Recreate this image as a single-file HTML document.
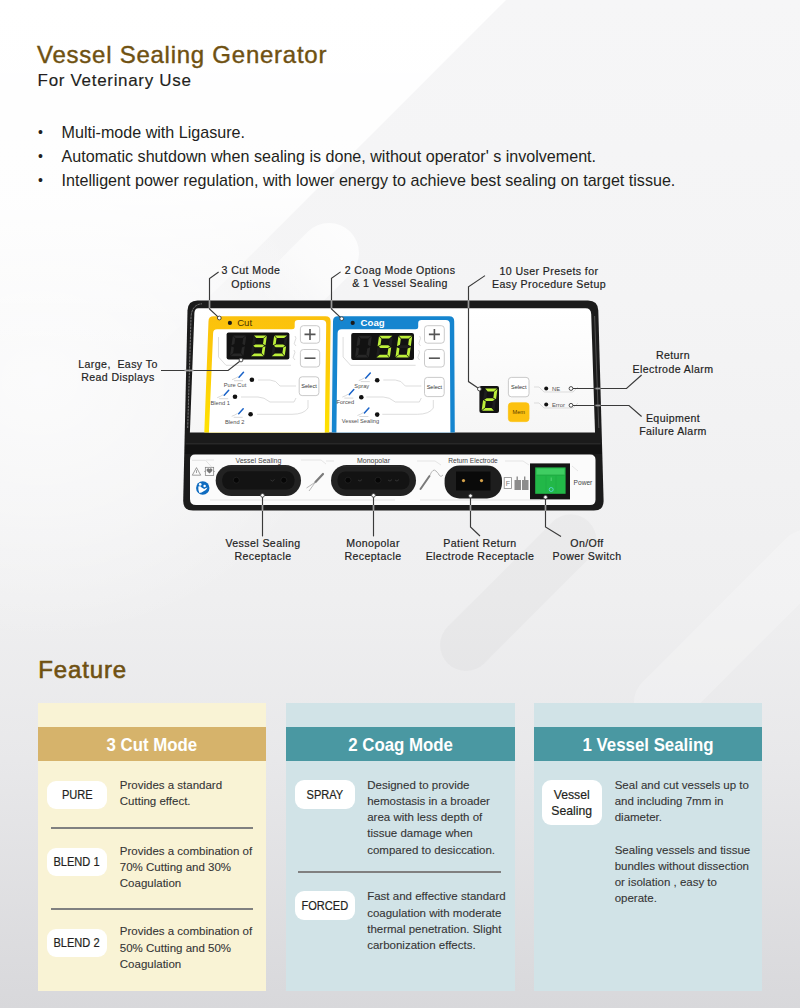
<!DOCTYPE html>
<html><head><meta charset="utf-8">
<style>
*{margin:0;padding:0;box-sizing:border-box}
html,body{width:800px;height:1008px;overflow:hidden}
body{font-family:"Liberation Sans",sans-serif;position:relative;background:#ffffff;color:#231f20}
#bg{position:absolute;left:0;top:0;width:800px;height:1008px}
h1{position:absolute;left:37px;top:42.7px;font-size:24px;line-height:24px;font-weight:normal;color:#6f5111;white-space:nowrap;-webkit-text-stroke:0.4px #6f5111;letter-spacing:0.75px}
.sub{position:absolute;left:37.6px;top:71.7px;font-size:17px;line-height:17px;color:#231f20;white-space:nowrap;letter-spacing:0.68px;-webkit-text-stroke:0.15px #231f20}
ul.b{position:absolute;left:35px;top:119.65px;list-style:none;font-size:16.1px;color:#231f20}
ul.b li{height:24.2px;line-height:24.2px;white-space:nowrap;padding-left:26.6px;position:relative}
ul.b li:before{content:"\2022";position:absolute;left:3px;top:0;font-size:14px}
#dev{position:absolute;left:0;top:0;width:800px;height:1008px}
.cl{position:absolute;font-size:10.6px;color:#222;text-align:center;white-space:nowrap;line-height:13.3px;letter-spacing:0.4px;-webkit-text-stroke:0.18px #222;margin-top:0.2px}
.feat{position:absolute;left:38.2px;top:656.8px;font-size:24px;line-height:26px;color:#6f5111;-webkit-text-stroke:0.6px #6f5111;letter-spacing:0.88px}
.card{position:absolute;top:703px;width:228.5px;height:287.5px}
.card .hd{position:absolute;left:0;top:24.2px;width:100%;height:34.3px;color:#fff;font-size:18.5px;font-weight:bold;text-align:center;line-height:35px;white-space:nowrap}
.card .hd span{display:inline-block;transform:scaleX(0.91)}
.pill{position:absolute;background:#fff;border-radius:9px;font-size:13.2px;color:#231f20;text-align:center;display:flex;align-items:center;justify-content:center;line-height:16px}
.pill span{display:inline-block;transform:scaleX(0.84);-webkit-text-stroke:0.2px #231f20}
.tx{position:absolute;font-size:11.5px;color:#353535;line-height:16.2px;white-space:nowrap;-webkit-text-stroke:0.1px #353535}
.sep{position:absolute;height:1.6px;background:#808080}
</style></head>
<body>
<svg id="bg" width="800" height="1008" viewBox="0 0 800 1008">
<defs>
<linearGradient id="bgG" x1="0" y1="0" x2="0" y2="1008" gradientUnits="userSpaceOnUse">
<stop offset="0" stop-color="#f6f6f7"/><stop offset="0.2976" stop-color="#f4f4f5"/><stop offset="0.5952" stop-color="#efeff0"/><stop offset="0.754" stop-color="#e8e8ea"/><stop offset="1" stop-color="#d8d8db"/>
</linearGradient>
<linearGradient id="bgW" x1="0" y1="0" x2="0" y2="360" gradientUnits="userSpaceOnUse">
<stop offset="0" stop-color="#ffffff" stop-opacity="1"/><stop offset="0.55" stop-color="#ffffff" stop-opacity="0.85"/><stop offset="1" stop-color="#ffffff" stop-opacity="0"/>
</linearGradient>
<linearGradient id="pillW" x1="0" y1="0" x2="1" y2="0"><stop offset="0" stop-color="#fff" stop-opacity="0.8"/><stop offset="0.5" stop-color="#fff" stop-opacity="0.6"/><stop offset="1" stop-color="#fff" stop-opacity="0"/></linearGradient>
<radialGradient id="leftW" cx="0.5" cy="0.5" r="0.5"><stop offset="0" stop-color="#fff" stop-opacity="0.7"/><stop offset="0.6" stop-color="#fff" stop-opacity="0.35"/><stop offset="1" stop-color="#fff" stop-opacity="0"/></radialGradient>
</defs>
<rect width="800" height="1008" fill="url(#bgG)"/>
<ellipse cx="40" cy="380" rx="300" ry="260" fill="url(#leftW)"/>
<path d="M0,0 L506,0 L0,506 Z" fill="url(#bgW)"/>
<g transform="translate(329,253) rotate(135)"><rect x="-30" y="-30" width="110" height="60" rx="30" fill="url(#pillW)"/></g>
<g transform="translate(466,645) rotate(-45)"><rect x="-26" y="-26" width="200" height="52" rx="26" fill="#000" opacity="0.025"/></g>

<g transform="translate(662,702) rotate(-45)"><rect x="-28" y="-28" width="260" height="56" rx="28" fill="#fff" opacity="0.22"/></g>
</svg>
<h1>Vessel Sealing Generator</h1>
<div class="sub">For Veterinary Use</div>
<ul class="b">
<li>Multi-mode with Ligasure.</li>
<li>Automatic shutdown when sealing is done, without operator' s involvement.</li>
<li>Intelligent power regulation, with lower energy to achieve best sealing on target tissue.</li>
</ul>
<svg id="dev" width="800" height="1008" viewBox="0 0 800 1008" font-family="Liberation Sans, sans-serif">
<defs><linearGradient id="gBody" x1="0" y1="0" x2="0" y2="1"><stop offset="0" stop-color="#262626"/><stop offset="1" stop-color="#151515"/></linearGradient><linearGradient id="gPanel" x1="0" y1="0" x2="0" y2="1"><stop offset="0" stop-color="#ffffff"/><stop offset="1" stop-color="#f6f6f6"/></linearGradient><linearGradient id="gYel" x1="0" y1="316" x2="0" y2="431" gradientUnits="userSpaceOnUse"><stop offset="0" stop-color="#fbc10d"/><stop offset="0.45" stop-color="#fdcc06"/><stop offset="1" stop-color="#ffe200"/></linearGradient><linearGradient id="gGreen" x1="0" y1="0" x2="0" y2="1"><stop offset="0" stop-color="#35c35a"/><stop offset="1" stop-color="#1f9e40"/></linearGradient></defs>
<path d="M197.5,300.5 L588,300.5 Q598,300.5 598.3,310.5 L603.6,500.5 Q603.8,510.5 593.8,510.5 L193,510.5 Q183,510.5 183.2,500.5 L187.5,310.5 Q187.8,300.5 197.5,300.5 Z" fill="#1b1b1b"/>
<path d="M187.7,428 L191.0,318 Q191.4,304.5 202,303.8" stroke="#c8c8c8" stroke-width="0.7" fill="none" opacity="0.75" stroke-dasharray="2.5 0.8"/>
<path d="M594.6,316 L598.8,428" stroke="#8a8a8a" stroke-width="0.8" fill="none" opacity="0.6"/>
<path d="M185.5,444.5 L601,444.5 L602,454 L185,454 Z" fill="#121212"/>
<path d="M186,443.8 L600.5,443.8" stroke="#333" stroke-width="0.8"/>
<path d="M198.5,308.3 L585.5,308.3 Q591,308.3 591.2,314 L595,432.4 L189.9,432.4 L194.4,313 Q194.6,308.3 198.5,308.3 Z" fill="url(#gPanel)"/>
<path d="M195,454.5 L590,454.5 Q595.5,454.5 595.5,460 L595.5,499.5 Q595.5,505 590,505 L196,505 Q190,505 190,499 L190,460 Q190,454.5 195,454.5 Z" fill="#fbfbfb"/>
<path d="M213.5,316.2 L325.6,316.2 Q330.6,316.2 330.6,321.2 L329.2,432.4 L204.3,432.4 L208.5,321.2 Q208.5,316.2 213.5,316.2 Z" fill="url(#gYel)"/>
<path d="M217.1,329.3 L292.0,329.3 Q294.7,329.3 294.7,326.8 L294.7,323.0 Q294.7,320.0 298.0,320.0 L322.2,320.0 Q326.2,320.0 326.2,324.0 L324.8,432.4 L208.9,432.4 L213.1,333.3 Q213.1,329.3 217.1,329.3 Z" fill="#ffffff"/>
<path d="M338.0,316.2 L449.2,316.2 Q454.2,316.2 454.2,321.2 L454.8,432.4 L331.8,432.4 L333.0,321.2 Q333.0,316.2 338.0,316.2 Z" fill="#1585cf"/>
<path d="M341.6,329.3 L415.5,329.3 Q418.2,329.3 418.2,326.8 L418.2,323.0 Q418.2,320.0 421.5,320.0 L445.8,320.0 Q449.8,320.0 449.8,324.0 L450.4,432.4 L336.4,432.4 L337.6,333.3 Q337.6,329.3 341.6,329.3 Z" fill="#ffffff"/>
<circle cx="229.9" cy="322.9" r="2.1" fill="#1a1a1a"/>
<text x="237.2" y="326.3" font-size="9.6" fill="#4a3200">Cut</text>
<circle cx="352.7" cy="322.9" r="2.1" fill="#1a1a1a"/>
<text x="360.6" y="326.3" font-size="9.6" fill="#ffffff" font-weight="bold">Coag</text>
<rect x="226.6" y="332.6" width="62.8" height="26.8" rx="2" fill="#121212"/>
<rect x="351.2" y="333.0" width="62.8" height="27.0" rx="2" fill="#121212"/>
<polygon points="233.36,335.40 245.86,335.40 242.78,338.10 235.68,338.10" fill="#272727"/>
<polygon points="230.45,356.20 242.95,356.20 240.63,353.50 233.53,353.50" fill="#272727"/>
<polygon points="232.85,335.85 235.17,338.55 234.41,344.00 231.52,345.35" fill="#272727"/>
<polygon points="231.39,346.25 233.90,347.60 233.14,353.05 230.06,355.75" fill="#272727"/>
<polygon points="246.25,335.85 243.17,338.55 242.41,344.00 244.92,345.35" fill="#272727"/>
<polygon points="244.79,346.25 241.90,347.60 241.14,353.05 243.46,355.75" fill="#272727"/>
<polygon points="253.96,335.40 266.46,335.40 263.38,338.10 256.28,338.10" fill="#bdf03a"/>
<polygon points="251.05,356.20 263.55,356.20 261.23,353.50 254.13,353.50" fill="#bdf03a"/>
<polygon points="253.45,335.85 255.77,338.55 255.01,344.00 252.12,345.35" fill="#1e1e1e"/>
<polygon points="251.99,346.25 254.50,347.60 253.74,353.05 250.66,355.75" fill="#1e1e1e"/>
<polygon points="266.85,335.85 263.77,338.55 263.01,344.00 265.52,345.35" fill="#bdf03a"/>
<polygon points="265.39,346.25 262.50,347.60 261.74,353.05 264.06,355.75" fill="#bdf03a"/>
<polygon points="253.11,345.80 255.40,344.45 262.50,344.45 264.41,345.80 262.12,347.15 255.02,347.15" fill="#bdf03a"/>
<polygon points="274.66,335.40 287.16,335.40 284.08,338.10 276.98,338.10" fill="#bdf03a"/>
<polygon points="271.75,356.20 284.25,356.20 281.93,353.50 274.83,353.50" fill="#bdf03a"/>
<polygon points="274.15,335.85 276.47,338.55 275.71,344.00 272.82,345.35" fill="#bdf03a"/>
<polygon points="272.69,346.25 275.20,347.60 274.44,353.05 271.36,355.75" fill="#1e1e1e"/>
<polygon points="287.55,335.85 284.47,338.55 283.71,344.00 286.22,345.35" fill="#1e1e1e"/>
<polygon points="286.09,346.25 283.20,347.60 282.44,353.05 284.76,355.75" fill="#bdf03a"/>
<polygon points="273.81,345.80 276.09,344.45 283.19,344.45 285.11,345.80 282.82,347.15 275.72,347.15" fill="#bdf03a"/>
<polygon points="358.50,335.80 371.40,335.80 368.21,338.60 360.91,338.60" fill="#272727"/>
<polygon points="355.45,357.60 368.35,357.60 365.94,354.80 358.64,354.80" fill="#272727"/>
<polygon points="357.99,336.25 360.40,339.05 359.59,344.85 356.59,346.25" fill="#272727"/>
<polygon points="356.46,347.15 359.07,348.55 358.25,354.35 355.06,357.15" fill="#272727"/>
<polygon points="371.79,336.25 368.60,339.05 367.79,344.85 370.39,346.25" fill="#272727"/>
<polygon points="370.26,347.15 367.27,348.55 366.45,354.35 368.86,357.15" fill="#272727"/>
<polygon points="379.50,335.80 392.40,335.80 389.21,338.60 381.91,338.60" fill="#bdf03a"/>
<polygon points="376.45,357.60 389.35,357.60 386.94,354.80 379.64,354.80" fill="#bdf03a"/>
<polygon points="378.99,336.25 381.40,339.05 380.59,344.85 377.59,346.25" fill="#bdf03a"/>
<polygon points="377.46,347.15 380.07,348.55 379.25,354.35 376.06,357.15" fill="#1e1e1e"/>
<polygon points="392.79,336.25 389.60,339.05 388.79,344.85 391.39,346.25" fill="#1e1e1e"/>
<polygon points="391.26,347.15 388.27,348.55 387.45,354.35 389.86,357.15" fill="#bdf03a"/>
<polygon points="378.58,346.70 380.97,345.30 388.27,345.30 390.28,346.70 387.88,348.10 380.58,348.10" fill="#bdf03a"/>
<polygon points="398.90,335.80 411.80,335.80 408.61,338.60 401.31,338.60" fill="#bdf03a"/>
<polygon points="395.85,357.60 408.75,357.60 406.34,354.80 399.04,354.80" fill="#bdf03a"/>
<polygon points="398.39,336.25 400.80,339.05 399.99,344.85 396.99,346.25" fill="#bdf03a"/>
<polygon points="396.86,347.15 399.47,348.55 398.65,354.35 395.46,357.15" fill="#bdf03a"/>
<polygon points="412.19,336.25 409.00,339.05 408.19,344.85 410.79,346.25" fill="#bdf03a"/>
<polygon points="410.66,347.15 407.67,348.55 406.85,354.35 409.26,357.15" fill="#bdf03a"/>
<polygon points="397.98,346.70 400.37,345.30 407.67,345.30 409.68,346.70 407.28,348.10 399.98,348.10" fill="#1e1e1e"/>
<rect x="479.4" y="386.1" width="19.6" height="27.0" rx="2" fill="#121212"/>
<polygon points="485.17,388.50 497.07,388.50 493.77,391.40 487.67,391.40" fill="#bdf03a"/>
<polygon points="482.05,410.80 493.95,410.80 491.46,407.90 485.36,407.90" fill="#bdf03a"/>
<polygon points="484.66,388.95 487.15,391.85 486.33,397.75 483.22,399.20" fill="#1e1e1e"/>
<polygon points="483.10,400.10 485.80,401.55 484.97,407.45 481.66,410.35" fill="#bdf03a"/>
<polygon points="497.46,388.95 494.15,391.85 493.33,397.75 496.02,399.20" fill="#bdf03a"/>
<polygon points="495.90,400.10 492.80,401.55 491.97,407.45 494.46,410.35" fill="#1e1e1e"/>
<polygon points="484.21,399.65 486.71,398.20 492.81,398.20 494.91,399.65 492.41,401.10 486.31,401.10" fill="#bdf03a"/>
<path d="M218.5,337 L218.5,357 L226.0,365.3 L291.0,365.3" stroke="#d4d4d4" stroke-width="0.8" fill="none"/>
<path d="M295.0,336 q2,2 0,5 q-2,3 1,5 M294.0,350 q2,2 0,5 q-2,3 1,5" stroke="#cfcfcf" stroke-width="0.7" fill="none"/>
<path d="M343.1,337 L343.1,357 L350.6,365.3 L415.6,365.3" stroke="#d4d4d4" stroke-width="0.8" fill="none"/>
<path d="M419.6,336 q2,2 0,5 q-2,3 1,5 M418.6,350 q2,2 0,5 q-2,3 1,5" stroke="#cfcfcf" stroke-width="0.7" fill="none"/>
<rect x="300.4" y="325.7" width="19.3" height="17.5" rx="3" fill="#ffffff" stroke="#bcbcbc" stroke-width="0.8"/>
<path d="M304.5,334.4 h11 M310.0,328.9 v11" stroke="#555" stroke-width="1.6"/>
<rect x="300.4" y="349.5" width="19.3" height="17.5" rx="3" fill="#ffffff" stroke="#bcbcbc" stroke-width="0.8"/>
<path d="M304.5,358.2 h11" stroke="#555" stroke-width="1.6"/>
<rect x="424.5" y="325.7" width="19.8" height="17.5" rx="3" fill="#ffffff" stroke="#bcbcbc" stroke-width="0.8"/>
<path d="M428.9,334.4 h11 M434.4,328.9 v11" stroke="#555" stroke-width="1.6"/>
<rect x="424.5" y="349.5" width="19.8" height="17.5" rx="3" fill="#ffffff" stroke="#bcbcbc" stroke-width="0.8"/>
<path d="M428.9,358.2 h11" stroke="#555" stroke-width="1.6"/>
<rect x="299.2" y="376.8" width="19.7" height="18.8" rx="3" fill="#ffffff" stroke="#bcbcbc" stroke-width="0.8"/>
<text x="309.0" y="388.2" font-size="5.6" fill="#333" text-anchor="middle">Select</text>
<rect x="424.5" y="377.4" width="19.7" height="19.2" rx="3" fill="#ffffff" stroke="#bcbcbc" stroke-width="0.8"/>
<text x="434.4" y="389.0" font-size="5.6" fill="#333" text-anchor="middle">Select</text>
<rect x="508.4" y="377.4" width="20.6" height="19.4" rx="3" fill="#ffffff" stroke="#bcbcbc" stroke-width="0.8"/>
<text x="518.7" y="389.1" font-size="5.6" fill="#333" text-anchor="middle">Select</text>
<rect x="508.4" y="402.8" width="20.6" height="18.8" rx="3" fill="#fcc10f" stroke="#fcc10f" stroke-width="0.8"/>
<text x="518.7" y="414.2" font-size="5.6" fill="#5a3d00" text-anchor="middle">Mem</text>
<circle cx="251.9" cy="379.8" r="2.3" fill="#111"/>
<text x="235.0" y="386.9" font-size="5.7" fill="#505050" text-anchor="middle">Pure Cut</text>
<path d="M239.0,377.2 l4.5,-5" stroke="#1a63c8" stroke-width="1.5" stroke-linecap="round"/>
<path d="M232.0,379.7 q3,-1 6,-3 M234.0,380.7 l9,0" stroke="#bdbdbd" stroke-width="0.6" fill="none"/>
<circle cx="235.0" cy="396.8" r="2.3" fill="#111"/>
<text x="220.2" y="404.9" font-size="5.7" fill="#505050" text-anchor="middle">Blend 1</text>
<path d="M224.2,395.2 l4.5,-5" stroke="#1a63c8" stroke-width="1.5" stroke-linecap="round"/>
<path d="M217.2,397.7 q3,-1 6,-3 M219.2,398.7 l9,0" stroke="#bdbdbd" stroke-width="0.6" fill="none"/>
<circle cx="250.6" cy="414.2" r="2.3" fill="#111"/>
<text x="234.7" y="423.5" font-size="5.7" fill="#505050" text-anchor="middle">Blend 2</text>
<path d="M238.7,413.8 l4.5,-5" stroke="#1a63c8" stroke-width="1.5" stroke-linecap="round"/>
<path d="M231.7,416.3 q3,-1 6,-3 M233.7,417.3 l9,0" stroke="#bdbdbd" stroke-width="0.6" fill="none"/>
<circle cx="377.2" cy="380.3" r="2.3" fill="#111"/>
<text x="361.8" y="387.8" font-size="5.7" fill="#505050" text-anchor="middle">Spray</text>
<path d="M365.8,378.1 l4.5,-5" stroke="#1a63c8" stroke-width="1.5" stroke-linecap="round"/>
<path d="M358.8,380.6 q3,-1 6,-3 M360.8,381.6 l9,0" stroke="#bdbdbd" stroke-width="0.6" fill="none"/>
<circle cx="361.3" cy="397.3" r="2.3" fill="#111"/>
<text x="345.3" y="404.3" font-size="5.7" fill="#505050" text-anchor="middle">Forced</text>
<path d="M349.3,394.6 l4.5,-5" stroke="#1a63c8" stroke-width="1.5" stroke-linecap="round"/>
<path d="M342.3,397.1 q3,-1 6,-3 M344.3,398.1 l9,0" stroke="#bdbdbd" stroke-width="0.6" fill="none"/>
<circle cx="377.2" cy="414.6" r="2.3" fill="#111"/>
<text x="360.4" y="422.7" font-size="5.7" fill="#505050" text-anchor="middle">Vessel Sealing</text>
<path d="M364.4,413.0 l4.5,-5" stroke="#1a63c8" stroke-width="1.5" stroke-linecap="round"/>
<path d="M357.4,415.5 q3,-1 6,-3 M359.4,416.5 l9,0" stroke="#bdbdbd" stroke-width="0.6" fill="none"/>
<path d="M258.0,380 L270.0,380 Q276.0,380 280.0,386 L296.0,386" stroke="#cfcfcf" stroke-width="0.7" fill="none"/>
<path d="M241.0,397 L258.0,397 Q264.0,397 270.0,402 L294.0,402 L296.0,398" stroke="#cfcfcf" stroke-width="0.7" fill="none"/>
<path d="M257.0,414.3 L292.0,414.3 Q304.0,414.3 308.0,408 L308.0,400" stroke="#cfcfcf" stroke-width="0.7" fill="none"/>
<path d="M383.3,380 L395.3,380 Q401.3,380 405.3,386 L421.3,386" stroke="#cfcfcf" stroke-width="0.7" fill="none"/>
<path d="M366.3,397 L383.3,397 Q389.3,397 395.3,402 L419.3,402 L421.3,398" stroke="#cfcfcf" stroke-width="0.7" fill="none"/>
<path d="M382.3,414.3 L417.3,414.3 Q429.3,414.3 433.3,408 L433.3,400" stroke="#cfcfcf" stroke-width="0.7" fill="none"/>
<path d="M534,387.0 h5 l5,5 h29 l5,-5" stroke="#d0d0d0" stroke-width="0.7" fill="none"/>
<circle cx="546.2" cy="388.5" r="2" fill="#111"/>
<text x="552" y="390.5" font-size="5.8" fill="#555">NE</text>
<path d="M534,403.0 h5 l5,5 h29 l5,-5" stroke="#d0d0d0" stroke-width="0.7" fill="none"/>
<circle cx="546.2" cy="404.5" r="2" fill="#111"/>
<text x="552" y="406.5" font-size="5.8" fill="#555">Error</text>
<rect x="215.7" y="464.9" width="85.3" height="31.1" rx="15.6" fill="#222"/>
<rect x="222.2" y="471.3" width="72.3" height="18.3" rx="8" fill="#131313"/>
<path d="M227.7,466.1 h61.3" stroke="#3a3a3a" stroke-width="0.6" opacity="0.6"/>
<rect x="331.0" y="465.0" width="85.0" height="31.0" rx="15.5" fill="#222"/>
<rect x="337.5" y="471.4" width="72.0" height="18.2" rx="8" fill="#131313"/>
<path d="M343.0,466.2 h61.0" stroke="#3a3a3a" stroke-width="0.6" opacity="0.6"/>
<circle cx="236.3" cy="480.2" r="3" fill="#060606" stroke="#2a2a2a" stroke-width="0.6"/>
<circle cx="283.8" cy="480.2" r="3" fill="#060606" stroke="#2a2a2a" stroke-width="0.6"/>
<circle cx="348.0" cy="480.2" r="3" fill="#060606" stroke="#2a2a2a" stroke-width="0.6"/>
<circle cx="378.0" cy="480.2" r="3" fill="#060606" stroke="#2a2a2a" stroke-width="0.6"/>
<path d="M270.5,480 q2,2.5 4,-0.5" stroke="#3a3a3a" stroke-width="0.8" fill="none"/>
<path d="M358.0,480 q2,2.5 4,-0.5" stroke="#3a3a3a" stroke-width="0.8" fill="none"/>
<path d="M388.0,480 q2,2.5 4,-0.5" stroke="#3a3a3a" stroke-width="0.8" fill="none"/>
<path d="M395.0,480 q2,2.5 4,-0.5" stroke="#3a3a3a" stroke-width="0.8" fill="none"/>
<text x="258.4" y="463" font-size="7" fill="#444" text-anchor="middle">Vessel Sealing</text>
<text x="373.5" y="463" font-size="7" fill="#444" text-anchor="middle">Monopolar</text>
<text x="473" y="462.8" font-size="6.6" fill="#444" text-anchor="middle">Return Electrode</text>
<rect x="444.6" y="465.5" width="57.4" height="33" rx="15" fill="#1e1e1e"/>
<rect x="456" y="471.5" width="34.5" height="19" fill="#0a0a0a"/>
<circle cx="463.5" cy="480.6" r="1.6" fill="#d6a24a"/><circle cx="481.5" cy="480.6" r="1.6" fill="#d6a24a"/>
<rect x="504.2" y="477.6" width="7.2" height="10.8" fill="#fff" stroke="#8a8a8a" stroke-width="0.8"/>
<text x="507.8" y="486" font-size="7" fill="#777" text-anchor="middle">F</text>
<rect x="514.5" y="480" width="6.5" height="10" fill="#8c8c8c"/><rect x="522" y="480" width="6.5" height="10" fill="#8c8c8c"/>
<rect x="516.5" y="476.5" width="1.4" height="4" fill="#8c8c8c"/><rect x="524" y="476.5" width="1.4" height="4" fill="#8c8c8c"/>
<rect x="530" y="463.4" width="40" height="36" fill="#151515"/>
<rect x="535.2" y="467.4" width="30.4" height="26.4" fill="#22b848"/>
<path d="M536.5,468.5 h28 v6.5 h-28 Z" fill="#3fcd62"/>
<path d="M536.5,475 h28" stroke="#1a9a3a" stroke-width="0.6"/>
<path d="M546,476 v16 M556,476 v16" stroke="#1fa843" stroke-width="0.6"/>
<path d="M551.2,477.5 v3.5" stroke="#6fdc8c" stroke-width="0.7"/>
<circle cx="551.2" cy="489.5" r="2" fill="none" stroke="#5fd8e8" stroke-width="0.8"/>
<text x="573.6" y="485.2" font-size="6.6" fill="#444">Power</text>
<path d="M196.5,467.6 L200.7,475.2 L192.3,475.2 Z" fill="none" stroke="#777" stroke-width="0.7" stroke-linejoin="round"/>
<path d="M196.5,470.2 v2.8" stroke="#777" stroke-width="0.7"/>
<rect x="205.3" y="467.3" width="8.4" height="8.2" fill="none" stroke="#7a7a7a" stroke-width="0.7"/>
<path d="M204.2,471.4 l1.1,-0.9 v1.8 Z M214.8,471.4 l-1.1,-0.9 v1.8 Z" fill="#7a7a7a"/>
<path d="M209.5,473.6 l-2.7,-2.7 a1.45,1.45 0 0 1 2.7,-1.7 a1.45,1.45 0 0 1 2.7,1.7 Z" fill="#777"/>
<circle cx="202.75" cy="488" r="6.7" fill="#0f6cc0"/>
<circle cx="200.2" cy="484.4" r="1.35" fill="#fff"/><circle cx="204.6" cy="486.1" r="1.25" fill="#fff"/>
<path d="M198.3,486.6 Q200.5,485.6 201.6,487.4 L204.2,489 Q206.2,487.9 207.6,487.6 Q206.6,490.2 203.2,491.4 L201.6,492.6 L199.4,492.9 Q198,490 198.3,486.6 Z" fill="#fff"/>
<path d="M192,460.3 h13.5 l6,6.5" stroke="#d9d9d9" stroke-width="0.7" fill="none"/>
<path d="M315.5,482 l7.5,-8" stroke="#7a7a7a" stroke-width="2.2" stroke-linecap="round"/>
<path d="M315.5,482 l-9,6 M315.5,482 l-6.5,9" stroke="#9a9a9a" stroke-width="0.7"/>
<path d="M420.5,489 l9,-13" stroke="#7a7a7a" stroke-width="2" stroke-linecap="round"/>
<path d="M430,475 q3,-7 6,-4 q3,3 3,4 q2,3 4,0" stroke="#8a8a8a" stroke-width="0.6" fill="none"/>
<path d="M206,460 h8 M236,460 h5 M301,460 h20 l5,4 M326,461 h8 M417,461 h18 l6,4 M505,461 h18 l6,4 M572,466 l6,5 M210,500 h185 M420,500 h120" stroke="#dddddd" stroke-width="0.7" fill="none"/>
<polyline points="218.6,272.0 209.5,278.6 209.5,309.0 218.0,316.8" stroke="#3a3a3a" stroke-width="1.15" fill="none"/>
<circle cx="219.3" cy="318.0" r="1.9" fill="#fff" stroke="#3a3a3a" stroke-width="0.9"/>
<polyline points="340.6,271.9 331.5,278.2 331.5,309.0 340.4,317.4" stroke="#3a3a3a" stroke-width="1.15" fill="none"/>
<circle cx="341.7" cy="318.7" r="1.9" fill="#fff" stroke="#3a3a3a" stroke-width="0.9"/>
<polyline points="485.0,275.6 468.5,286.9 468.5,381.6 478.0,388.0" stroke="#3a3a3a" stroke-width="1.15" fill="none"/>
<circle cx="479.4" cy="389.0" r="1.9" fill="#fff" stroke="#3a3a3a" stroke-width="0.9"/>
<polyline points="161.0,370.5 228.1,370.5 239.8,361.3" stroke="#3a3a3a" stroke-width="1.15" fill="none"/>
<circle cx="241.0" cy="360.0" r="1.9" fill="#fff" stroke="#3a3a3a" stroke-width="0.9"/>
<polyline points="572.5,388.5 626.5,388.5 641.6,375.0" stroke="#3a3a3a" stroke-width="1.15" fill="none"/>
<circle cx="571.0" cy="388.5" r="1.9" fill="#fff" stroke="#3a3a3a" stroke-width="0.9"/>
<polyline points="572.5,405.5 629.0,405.5 641.6,416.5" stroke="#3a3a3a" stroke-width="1.15" fill="none"/>
<circle cx="571.0" cy="405.3" r="1.9" fill="#fff" stroke="#3a3a3a" stroke-width="0.9"/>
<polyline points="262.5,497.0 262.5,536.4" stroke="#3a3a3a" stroke-width="1.15" fill="none"/>
<circle cx="262.5" cy="495.3" r="1.9" fill="#fff" stroke="#3a3a3a" stroke-width="0.9"/>
<polyline points="373.5,497.0 373.5,536.4" stroke="#3a3a3a" stroke-width="1.15" fill="none"/>
<circle cx="373.5" cy="495.3" r="1.9" fill="#fff" stroke="#3a3a3a" stroke-width="0.9"/>
<polyline points="470.5,497.5 470.5,527.0 480.0,536.0" stroke="#3a3a3a" stroke-width="1.15" fill="none"/>
<circle cx="470.5" cy="495.8" r="1.9" fill="#fff" stroke="#3a3a3a" stroke-width="0.9"/>
<polyline points="545.5,499.0 545.5,527.0 561.0,536.6" stroke="#3a3a3a" stroke-width="1.15" fill="none"/>
<circle cx="545.5" cy="497.2" r="1.9" fill="#fff" stroke="#3a3a3a" stroke-width="0.9"/>
<path d="M209.5,300.0 L209.5,308.3" stroke="#9a9a9a" stroke-width="1.7"/>
<path d="M331.5,300.0 L331.5,308.3" stroke="#9a9a9a" stroke-width="1.7"/>
<path d="M468.5,300.0 L468.5,308.3" stroke="#9a9a9a" stroke-width="1.7"/>
<path d="M184.5,370.5 L193.5,370.5" stroke="#9a9a9a" stroke-width="1.7"/>
<path d="M262.5,505.0 L262.5,511.0" stroke="#9a9a9a" stroke-width="1.7"/>
<path d="M373.5,505.0 L373.5,511.0" stroke="#9a9a9a" stroke-width="1.7"/>
<path d="M470.5,505.0 L470.5,511.0" stroke="#9a9a9a" stroke-width="1.7"/>
<path d="M545.5,505.0 L545.5,511.0" stroke="#9a9a9a" stroke-width="1.7"/>
<path d="M595.5,388.5 L600.5,388.5" stroke="#9a9a9a" stroke-width="1.7"/>
<path d="M595.5,405.5 L600.5,405.5" stroke="#9a9a9a" stroke-width="1.7"/>
</svg>
<div class="cl" style="left:201px;top:264.2px;width:100px;line-height:13.6px">3 Cut Mode<br>Options</div>
<div class="cl" style="left:340px;top:264px;width:120px;line-height:13.3px">2 Coag Mode Options<br>&amp; 1 Vessel Sealing</div>
<div class="cl" style="left:489px;top:264.5px;width:120px;line-height:13.2px">10 User Presets for<br>Easy Procedure Setup</div>
<div class="cl" style="left:58px;top:358px;width:120px">Large,&nbsp; Easy To<br>Read Displays</div>
<div class="cl" style="left:623px;top:348.5px;width:100px;line-height:13.9px">Return<br>Electrode Alarm</div>
<div class="cl" style="left:623px;top:411.5px;width:100px;line-height:13.6px">Equipment<br>Failure Alarm</div>
<div class="cl" style="left:203px;top:537px;width:120px">Vessel Sealing<br>Receptacle</div>
<div class="cl" style="left:313px;top:537px;width:120px">Monopolar<br>Receptacle</div>
<div class="cl" style="left:410px;top:537px;width:140px">Patient Return<br>Electrode Receptacle</div>
<div class="cl" style="left:527px;top:537px;width:120px">On/Off<br>Power Switch</div>

<div class="feat">Feature</div>

<div class="card" style="left:37.8px;width:228.3px;background:#f9f3d5">
  <div class="hd" style="background:#d6b36b"><span>3 Cut Mode</span></div>
  <div class="pill" style="left:9px;top:77.5px;width:60.3px;height:28.5px"><span>PURE</span></div>
  <div class="tx" style="left:82px;top:73.7px">Provides a standard<br>Cutting effect.</div>
  <div class="sep" style="left:13px;top:124px;width:202.5px"></div>
  <div class="pill" style="left:9px;top:144.5px;width:60.3px;height:28px"><span>BLEND 1</span></div>
  <div class="tx" style="left:82px;top:139.5px">Provides a combination of<br>70% Cutting and 30%<br>Coagulation</div>
  <div class="sep" style="left:13px;top:205.3px;width:202.5px"></div>
  <div class="pill" style="left:9px;top:225.5px;width:60.3px;height:28px"><span>BLEND 2</span></div>
  <div class="tx" style="left:82px;top:220.3px">Provides a combination of<br>50% Cutting and 50%<br>Coagulation</div>
</div>
<div class="card" style="left:286px;background:#d1e3e7">
  <div class="hd" style="background:#4a98a2"><span>2 Coag Mode</span></div>
  <div class="pill" style="left:8.7px;top:77px;width:60px;height:29.4px"><span>SPRAY</span></div>
  <div class="tx" style="left:81.2px;top:73.7px">Designed to provide<br>hemostasis in a broader<br>area with less depth of<br>tissue damage when<br>compared to desiccation.</div>
  <div class="sep" style="left:12.4px;top:168.2px;width:202.6px"></div>
  <div class="pill" style="left:8.7px;top:188.3px;width:60px;height:29px"><span>FORCED</span></div>
  <div class="tx" style="left:81.2px;top:185.3px">Fast and effective standard<br>coagulation with moderate<br>thermal penetration. Slight<br>carbonization effects.</div>
</div>
<div class="card" style="left:533.5px;background:#d1e3e7">
  <div class="hd" style="background:#4a98a2"><span>1 Vessel Sealing</span></div>
  <div class="pill" style="left:8.5px;top:77px;width:60px;height:45px;font-size:13.6px;line-height:15.8px"><span style="transform:scaleX(0.9)">Vessel<br>Sealing</span></div>
  <div class="tx" style="left:81.2px;top:73.7px">Seal and cut vessels up to<br>and including 7mm in<br>diameter.<br><br>Sealing vessels and tissue<br>bundles without dissection<br>or isolation , easy to<br>operate.</div>
</div>
</body></html>
